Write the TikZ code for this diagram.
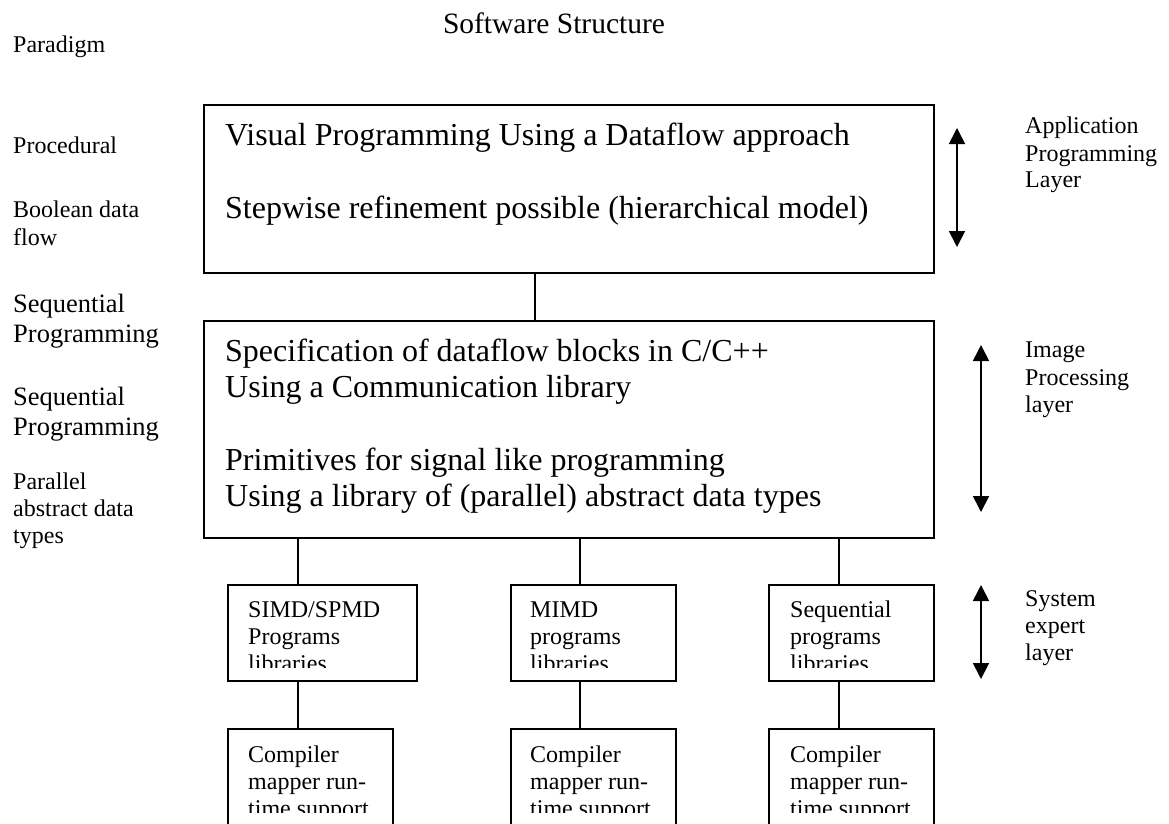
\documentclass[tikz,border=0pt]{standalone}
\usepackage{fontspec}
\setmainfont{Liberation Serif}
\usetikzlibrary{arrows.meta}
\newcommand\fsm{\fontsize{24}{27.6}\selectfont}
\newcommand\fmd{\fontsize{26.5}{30.5}\selectfont}
\newcommand\fbg{\fontsize{32}{36.5}\selectfont}
\newcommand\fti{\fontsize{29.5}{34}\selectfont}
\begin{document}
\begin{tikzpicture}[x=1pt,y=-1pt,
  box/.style={draw, line width=1.8pt, rectangle, inner sep=0pt, anchor=north west},
  txt/.style={anchor=base west, inner sep=0pt},
  link/.style={line width=1.7pt},
  dbl/.style={line width=1.7pt, {Triangle[width=16pt,length=16pt]}-{Triangle[width=16pt,length=16pt]}}]
\clip (0,0) rectangle (1169,823);
\fill[white] (0,0) rectangle (1169,823);

% title and paradigm labels
\node[anchor=base, inner sep=0pt] (title) at (554,33) {\fti Software Structure};
\node[txt] (l1) at (13,52) {\fsm Paradigm};
\node[txt] (l2) at (13,153) {\fsm Procedural};
\node[txt] (l3a) at (13,217) {\fsm Boolean data};
\node[txt] (l3b) at (13,245) {\fsm flow};
\node[txt] (l4a) at (13,312) {\fmd Sequential};
\node[txt] (l4b) at (13,342) {\fmd Programming};
\node[txt] (l5a) at (13,405) {\fmd Sequential};
\node[txt] (l5b) at (13,435) {\fmd Programming};
\node[txt] (l6a) at (13,489) {\fsm Parallel};
\node[txt] (l6b) at (13,516) {\fsm abstract data};
\node[txt] (l6c) at (13,543) {\fsm types};

% main boxes
\node[box, minimum width=730pt, minimum height=168pt] (app) at (203,104) {};
\node[txt] (app1) at (225,145) {\fbg Visual Programming Using a Dataflow approach};
\node[txt] (app2) at (225,218) {\fbg Stepwise refinement possible (hierarchical model)};

\node[box, minimum width=730pt, minimum height=217pt] (ipl) at (203,320) {};
\node[txt] (ipl1) at (225,361) {\fbg Specification of dataflow blocks in C/C++};
\node[txt] (ipl2) at (225,397) {\fbg Using a Communication library};
\node[txt] (ipl3) at (225,470) {\fbg Primitives for signal like programming};
\node[txt] (ipl4) at (225,506) {\fbg Using a library of (parallel) abstract data types};

% system boxes
\node[box, minimum width=189pt, minimum height=96pt] (s1) at (227,584) {};
\node[box, minimum width=165pt, minimum height=96pt] (s2) at (510,584) {};
\node[box, minimum width=165pt, minimum height=96pt] (s3) at (768,584) {};
\begin{scope}
\clip (200,590) rectangle (950,667);
\node[txt] (s1a) at (248,617) {\fsm SIMD/SPMD};
\node[txt] (s1b) at (248,644) {\fsm Programs};
\node[txt] (s1c) at (248,671) {\fsm libraries};
\node[txt] (s2a) at (530,617) {\fsm MIMD};
\node[txt] (s2b) at (530,644) {\fsm programs};
\node[txt] (s2c) at (530,671) {\fsm libraries};
\node[txt] (s3a) at (790,617) {\fsm Sequential};
\node[txt] (s3b) at (790,644) {\fsm programs};
\node[txt] (s3c) at (790,671) {\fsm libraries};
\end{scope}

% compiler boxes
\node[box, minimum width=165pt, minimum height=120pt] (c1) at (227,728) {};
\node[box, minimum width=165pt, minimum height=120pt] (c2) at (510,728) {};
\node[box, minimum width=165pt, minimum height=120pt] (c3) at (768,728) {};
\begin{scope}
\clip (200,735) rectangle (950,812);
\node[txt] (c1a) at (248,762) {\fsm Compiler};
\node[txt] (c1b) at (248,789) {\fsm mapper run-};
\node[txt] (c1c) at (248,816) {\fsm time support};
\node[txt] (c2a) at (530,762) {\fsm Compiler};
\node[txt] (c2b) at (530,789) {\fsm mapper run-};
\node[txt] (c2c) at (530,816) {\fsm time support};
\node[txt] (c3a) at (790,762) {\fsm Compiler};
\node[txt] (c3b) at (790,789) {\fsm mapper run-};
\node[txt] (c3c) at (790,816) {\fsm time support};
\end{scope}

% connectors
\coordinate (k0) at (535,0);
\coordinate (k1) at (298,0);
\coordinate (k2) at (580,0);
\coordinate (k3) at (839,0);
\draw[link] (k0 |- app.south) -- (k0 |- ipl.north);
\draw[link] (k1 |- ipl.south) -- (k1 |- s1.north);
\draw[link] (k2 |- ipl.south) -- (k2 |- s2.north);
\draw[link] (k3 |- ipl.south) -- (k3 |- s3.north);
\draw[link] (k1 |- s1.south) -- (k1 |- c1.north);
\draw[link] (k2 |- s2.south) -- (k2 |- c2.north);
\draw[link] (k3 |- s3.south) -- (k3 |- c3.north);

% layer arrows and labels
\coordinate (a1t) at (957,128);
\coordinate (a1b) at (957,247);
\coordinate (a2t) at (981,345);
\coordinate (a2b) at (981,512);
\coordinate (a3t) at (981,585);
\coordinate (a3b) at (981,679);
\draw[dbl] (a1t) -- (a1b);
\draw[dbl] (a2t) -- (a2b);
\draw[dbl] (a3t) -- (a3b);

\node[txt] (r1a) at (1025,133) {\fsm Application};
\node[txt] (r1b) at (1025,161) {\fsm Programming};
\node[txt] (r1c) at (1025,187) {\fsm Layer};
\node[txt] (r2a) at (1025,357) {\fsm Image};
\node[txt] (r2b) at (1025,385) {\fsm Processing};
\node[txt] (r2c) at (1025,412) {\fsm layer};
\node[txt] (r3a) at (1025,606) {\fsm System};
\node[txt] (r3b) at (1025,633) {\fsm expert};
\node[txt] (r3c) at (1025,660) {\fsm layer};
\end{tikzpicture}
\end{document}
